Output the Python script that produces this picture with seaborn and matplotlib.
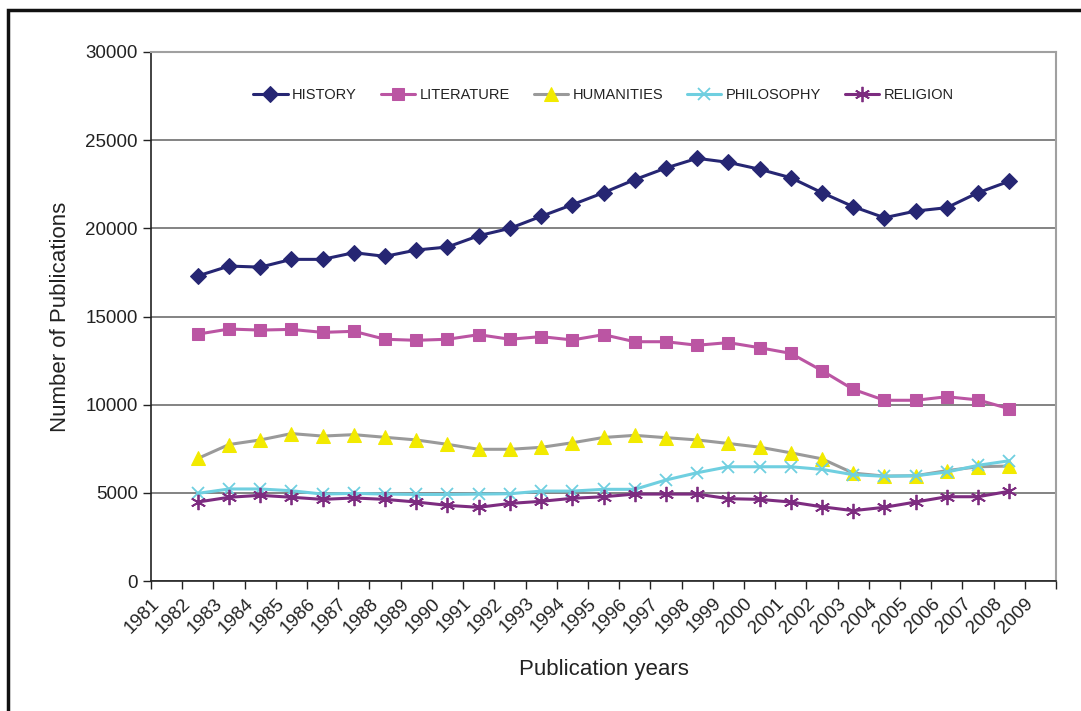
import numpy as np
import pandas as pd
import matplotlib.pyplot as plt
import seaborn as sns
from matplotlib.patches import Rectangle

# Data (1982-2008)
years = list(range(1982, 2009))
history = [17300, 17860, 17800, 18240, 18240, 18620, 18410, 18770, 18940, 19580,
           20000, 20680, 21340, 22020, 22760, 23420, 23970, 23740, 23350, 22870,
           22020, 21230, 20600, 20980, 21170, 22020, 22670]
literature = [14000, 14290, 14230, 14270, 14100, 14160, 13710, 13650, 13710, 13970,
              13710, 13860, 13670, 13970, 13570, 13570, 13370, 13520, 13230, 12910,
              11930, 10870, 10250, 10250, 10450, 10270, 9770]
humanities = [6950, 7740, 8000, 8360, 8220, 8300, 8150, 8000, 7750, 7470,
              7470, 7580, 7840, 8140, 8260, 8130, 8000, 7800, 7590, 7270,
              6930, 6120, 5950, 5970, 6260, 6480, 6520]
philosophy = [4970, 5220, 5220, 5120, 4930, 4970, 4930, 4910, 4910, 4930,
              4950, 5100, 5100, 5200, 5200, 5730, 6140, 6480, 6480, 6480,
              6330, 6030, 5940, 5970, 6180, 6560, 6820]
religion = [4480, 4750, 4860, 4750, 4630, 4710, 4630, 4480, 4290, 4180,
            4400, 4520, 4690, 4780, 4930, 4930, 4930, 4670, 4630, 4480,
            4210, 3990, 4180, 4480, 4780, 4780, 5090]
tick_years = list(range(1981, 2010))

sns.set_theme(style="white")
plt.rcParams['font.family'] = ['Liberation Sans', 'DejaVu Sans']

fig = plt.figure(figsize=(10.81, 7.11), dpi=100)
ax = fig.add_axes([0.1397, 0.1828, 0.8372, 0.7441])

# points sit in the middle of each year slot
x = np.array(years) + 0.5

series = [
    ("HISTORY", history, dict(color="#262673", marker="D", markersize=8,
                              markerfacecolor="#262673", markeredgecolor="#262673")),
    ("LITERATURE", literature, dict(color="#BB55A3", marker="s", markersize=9,
                                    markerfacecolor="#BB55A3", markeredgecolor="#BB55A3")),
    ("HUMANITIES", humanities, dict(color="#9A9A9A", marker="^", markersize=10,
                                    markerfacecolor="#F2EA00", markeredgecolor="#F2EA00")),
    ("PHILOSOPHY", philosophy, dict(color="#6FCFE0", marker="x", markersize=9,
                                    markeredgewidth=1.3, markeredgecolor="#6FCFE0")),
    ("RELIGION", religion, dict(color="#7D2C80", marker=(6, 2, 0), markersize=11,
                                markeredgewidth=1.3, markeredgecolor="#7D2C80")),
]

for name, vals, style in series:
    sns.lineplot(x=x, y=vals, ax=ax, label=name, linewidth=2.2, **style)

ax.set_xlim(1981, 2010)
ax.set_ylim(0, 30000)
ax.set_yticks(range(0, 30001, 5000))
ax.set_yticklabels([str(v) for v in range(0, 30001, 5000)], fontsize=13.5)
ax.set_xticks(list(range(1981, 2011)))
ax.set_xticklabels([str(y) for y in tick_years] + [""], rotation=45, ha="right",
                   rotation_mode="anchor", fontsize=13.5)

ax.yaxis.grid(True, color="#6E6E6E", linewidth=1.2)
ax.xaxis.grid(False)
ax.set_axisbelow(True)

for side in ["left", "bottom"]:
    ax.spines[side].set_color("#222222")
    ax.spines[side].set_linewidth(1.2)
for side in ["top", "right"]:
    ax.spines[side].set_color("#A0A0A0")
    ax.spines[side].set_linewidth(1.5)

ax.tick_params(axis="both", direction="out", length=6, width=1, color="#222222",
               left=True, bottom=True, labelcolor="#222222")
ax.tick_params(axis="x", pad=4)

ax.set_xlabel("Publication years", fontsize=16, color="#222222", labelpad=16)
ax.set_ylabel("Number of Publications", fontsize=16, color="#222222", labelpad=10)

leg = ax.legend(loc="center", bbox_to_anchor=(0.5, 0.919), ncol=5, frameon=False,
                fontsize=10.5, handlelength=2.35, columnspacing=1.65, handletextpad=0.3)
for t in leg.get_texts():
    t.set_color("#222222")

# outer frame of the original picture
fig.patches.append(Rectangle((8 / 1081, -0.05), 1.2, (711 - 10) / 711 + 0.05,
                             transform=fig.transFigure, fill=False,
                             edgecolor="#111111", linewidth=2.5))

fig.savefig("out.png", dpi=100)
